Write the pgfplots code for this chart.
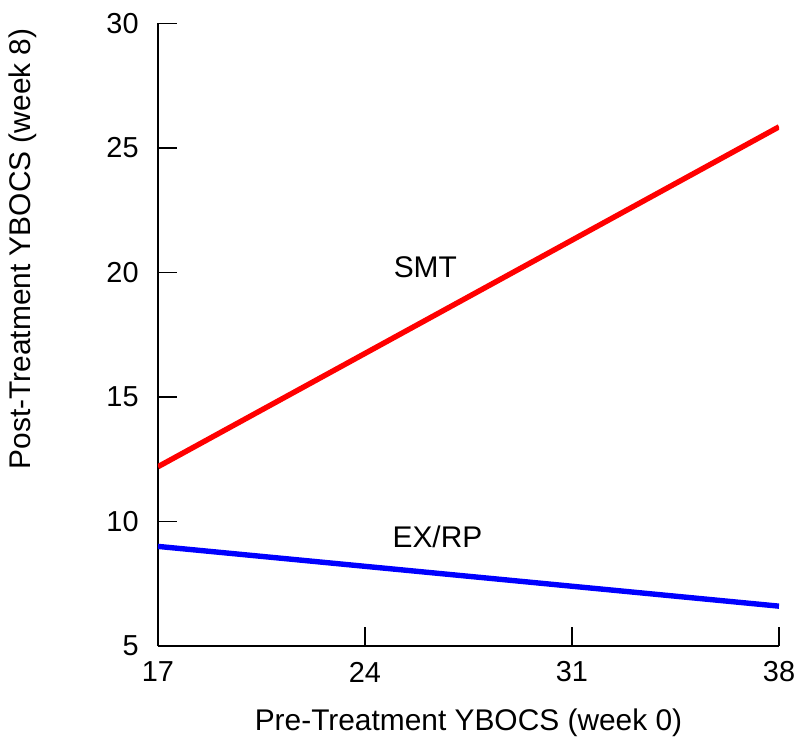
\documentclass[border=0pt]{standalone}
\usepackage{pgfplots}
\pgfplotsset{compat=1.18}
\usepackage{fontspec}
\setmainfont{Liberation Sans}
\begin{document}
\begin{tikzpicture}
\path[use as bounding box] (-79bp,-53.5bp) rectangle (321bp,323bp);
\begin{axis}[
  at={(0,0)}, anchor=south west,
  scale only axis, width=310.5bp, height=311.25bp,
  xmin=17, xmax=38, ymin=5, ymax=30,
  axis x line*=bottom, axis y line*=left,
  axis line style={line width=0.9bp, -},
  xtick={17,24,31,38}, ytick={5,10,15,20,25,30},
  tick align=inside, major tick length=9.5bp,
  tick style={line width=0.9bp, black},
  /pgf/number format/assume math mode=true,
  ticklabel style={font=\fontsize{14.5}{16}\selectfont, inner sep=0pt},
  xticklabel style={anchor=center, yshift=-13bp},
  yticklabel style={anchor=east, xshift=-9.5bp},
  xlabel={Pre-Treatment YBOCS (week 0)},
  ylabel={Post-Treatment YBOCS (week 8)},
  label style={font=\fontsize{15}{17}\selectfont, inner sep=0pt},
  xlabel style={at={(axis description cs:0.5,0)}, anchor=center, yshift=-38.5bp},
  ylabel style={at={(axis description cs:0,0.638)}, anchor=center, yshift=67.5bp},
]
\addplot[red, line width=2.7bp] coordinates {(17,12.2) (38,25.85)};
\addplot[blue, line width=2.7bp] coordinates {(17,9.0) (38,6.6)};
\node[font=\fontsize{15}{17}\selectfont, inner sep=0pt] at (axis cs:26.04,20.2) {SMT};
\node[font=\fontsize{15}{17}\selectfont, inner sep=0pt] at (axis cs:26.45,9.4) {EX/RP};
\end{axis}
\end{tikzpicture}
\end{document}
